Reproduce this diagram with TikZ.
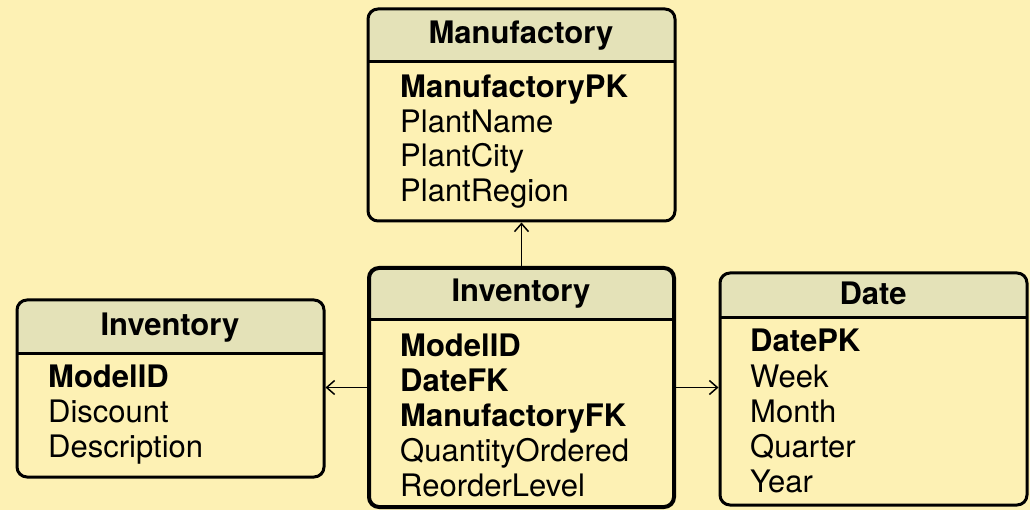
\documentclass[tikz,border=0pt]{standalone}
\usepackage{fontspec}
\setmainfont{TeX Gyre Heros}
\usetikzlibrary{fit,arrows.meta}
\definecolor{bgc}{RGB}{253,241,180}
\definecolor{hdrc}{RGB}{228,226,184}
\tikzset{
  tblframe/.style={draw=black, line width=3pt, rounded corners=10pt, inner sep=0pt},
  title/.style={anchor=base, inner sep=0pt, font=\fontsize{31}{34}\selectfont\bfseries},
  keyfld/.style={anchor=base west, inner sep=0pt, font=\fontsize{31}{34}\selectfont\bfseries},
  fld/.style={anchor=base west, inner sep=0pt, font=\fontsize{31}{34}\selectfont},
  arr/.style={line width=1.5pt, -{Straight Barb[length=8pt,width=14pt,line width=1.5pt]}}
}
\newcommand{\tablebg}[5]{%
  \fill[bgc, rounded corners=10pt] (#1,#2) rectangle (#3,#4);
  \begin{scope}
    \clip[rounded corners=10pt] (#1,#2) rectangle (#3,#4);
    \fill[hdrc] (#1,#2) rectangle (#3,#5);
  \end{scope}
  \draw[line width=3pt] (#1,#5) -- (#3,#5);
}
\begin{document}
\begin{tikzpicture}[x=1pt,y=-1pt]
\fill[bgc] (0,0) rectangle (1030,510);
\useasboundingbox (0,0) rectangle (1030,510);

% Manufactory
\tablebg{368}{9}{675}{221}{62}
\node[tblframe, fit={(368,9)(675,221)}] (manuf) {};
\node[title] (manufT) at (521,44) {Manufactory};
\node[keyfld] (m1) at (400,98) {ManufactoryPK};
\node[fld] (m2) at (400,133) {PlantName};
\node[fld] (m3) at (400,167) {PlantCity};
\node[fld] (m4) at (400,202) {PlantRegion};

% Inventory (left)
\tablebg{17}{300}{324}{477}{353}
\node[tblframe, fit={(17,300)(324,477)}] (invL) {};
\node[title] (invLT) at (170,335) {Inventory};
\node[keyfld] (l1) at (48,387) {ModelID};
\node[fld] (l2) at (48,422) {Discount};
\node[fld] (l3) at (48,457) {Description};

% Inventory (center)
\tablebg{369}{268}{674}{507}{320}
\node[tblframe, line width=4pt, fit={(369,268)(674,507)}] (invC) {};
\node[title] (invCT) at (521,302) {Inventory};
\node[keyfld] (c1) at (400,356) {ModelID};
\node[keyfld] (c2) at (400,391) {DateFK};
\node[keyfld] (c3) at (400,426) {ManufactoryFK};
\node[fld] (c4) at (400,461) {QuantityOrdered};
\node[fld] (c5) at (400,496) {ReorderLevel};

% Date
\tablebg{720}{273}{1027}{505}{318}
\node[tblframe, fit={(720,273)(1027,505)}] (date) {};
\node[title] (dateT) at (873,305) {Date};
\node[keyfld] (d1) at (750,352) {DatePK};
\node[fld] (d2) at (750,387) {Week};
\node[fld] (d3) at (750,422) {Month};
\node[fld] (d4) at (750,457) {Quarter};
\node[fld] (d5) at (750,492) {Year};

% connectors
\draw[arr] (invC.north) -- (manuf.south);
\draw[arr] (invC.west) -- (invC.west -| invL.east);
\draw[arr] (invC.east) -- (invC.east -| date.west);
\end{tikzpicture}
\end{document}
